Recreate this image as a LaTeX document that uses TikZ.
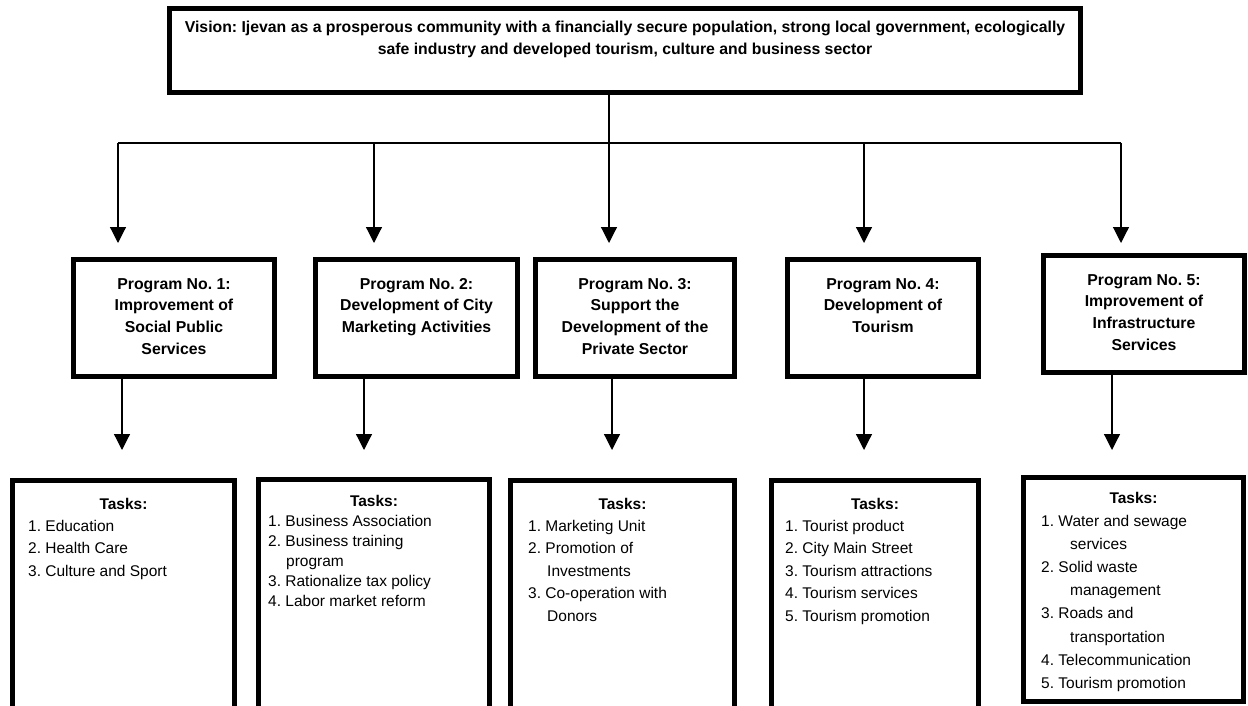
\documentclass[tikz,border=0pt]{standalone}
\usepackage{fontspec}
\setmainfont{Liberation Sans}
\frenchspacing
\usetikzlibrary{arrows.meta}
\begin{document}
\begin{tikzpicture}[x=1pt,y=-1pt,
  frame/.style={draw=black, line width=5pt, inner sep=0pt},
  conn/.style={draw=black, line width=1.2pt},
  arr/.style={conn, -{Triangle[length=16pt,width=16pt]}},
  vtext/.style={font=\fontsize{15.8}{22}\selectfont\bfseries, align=center, inner sep=0pt, anchor=base},
  ptext/.style={font=\fontsize{15.8}{21.7}\selectfont\bfseries, align=center, inner sep=0pt, anchor=base},
  ttitle/.style={font=\fontsize{15.5}{22}\selectfont\bfseries, inner sep=0pt, anchor=base},
  titems/.style={font=\fontsize{15.5}{22.5}\selectfont, align=left, inner sep=0pt, anchor=base west},
]
\useasboundingbox (0,0) rectangle (1248,706);

% vision (text nodes are placed by the baseline of their last line)
\node[frame, minimum width=911pt, minimum height=84pt] (v) at (625,50.5) {};
\node[vtext] (vt) at (625,55) {Vision: Ijevan as a prosperous community with a financially secure population, strong local government, ecologically\\safe industry and developed tourism, culture and business sector};

% programs
\node[frame, minimum width=201pt, minimum height=117pt] (p1) at (174,318) {};
\node[frame, minimum width=202pt, minimum height=117pt] (p2) at (416.5,318) {};
\node[frame, minimum width=199pt, minimum height=117pt] (p3) at (635,318) {};
\node[frame, minimum width=191pt, minimum height=117pt] (p4) at (883,318) {};
\node[frame, minimum width=201pt, minimum height=117pt] (p5) at (1144,314) {};
\node[ptext] (p1t) at (174,354.1) {Program No. 1:\\Improvement of\\Social Public\\Services};
\node[ptext] (p2t) at (416.5,332.4) {Program No. 2:\\Development of City\\Marketing Activities};
\node[ptext] (p3t) at (635,354.1) {Program No. 3:\\Support the\\Development of the\\Private Sector};
\node[ptext] (p4t) at (883,332.4) {Program No. 4:\\Development of\\Tourism};
\node[ptext] (p5t) at (1144,350.1) {Program No. 5:\\Improvement of\\Infrastructure\\Services};

% tasks
\node[frame, minimum width=222pt, minimum height=229pt] (t1) at (123.5,595) {};
\node[frame, minimum width=231pt, minimum height=230pt] (t2) at (374,594.5) {};
\node[frame, minimum width=224pt, minimum height=229pt] (t3) at (622.5,595) {};
\node[frame, minimum width=207pt, minimum height=229pt] (t4) at (875,595) {};
\node[frame, minimum width=220pt, minimum height=224pt] (t5) at (1133.5,589.5) {};

\node[ttitle] (t1h) at (123.5,509) {Tasks:};
\node[titems] (t1i) at (28,576) {1. Education\\2. Health Care\\3. Culture and Sport};

\node[ttitle] (t2h) at (374,506) {Tasks:};
\node[titems, font=\fontsize{15.5}{20}\selectfont] (t2i) at (268,606) {1. Business Association\\2. Business training\\\hspace*{18pt}program\\3. Rationalize tax policy\\4. Labor market reform};

\node[ttitle] (t3h) at (622.5,509) {Tasks:};
\node[titems] (t3i) at (528,621) {1. Marketing Unit\\2. Promotion of\\\hspace*{19pt}Investments\\3. Co-operation with\\\hspace*{19pt}Donors};

\node[ttitle] (t4h) at (875,509) {Tasks:};
\node[titems] (t4i) at (785,621) {1. Tourist product\\2. City Main Street\\3. Tourism attractions\\4. Tourism services\\5. Tourism promotion};

\node[ttitle] (t5h) at (1133.5,503) {Tasks:};
\node[titems, font=\fontsize{15.5}{23.2}\selectfont] (t5i) at (1041,688.4) {1. Water and sewage\\\hspace*{29pt}services\\2. Solid waste\\\hspace*{29pt}management\\3. Roads and\\\hspace*{29pt}transportation\\4. Telecommunication\\5. Tourism promotion};

% bus from the vision to the programs
\coordinate (b1) at (118,143);
\coordinate (b2) at (374,143);
\coordinate (b3) at (609,143);
\coordinate (b4) at (864,143);
\coordinate (b5) at (1121,143);
\draw[conn] (v.south -| b3) -- (b3);
\draw[conn] (b1) -- (b5);
\draw[arr, shorten >=14pt] (b1) -- (b1 |- p1.north);
\draw[arr, shorten >=14pt] (b2) -- (b2 |- p2.north);
\draw[arr, shorten >=14pt] (b3) -- (b3 |- p3.north);
\draw[arr, shorten >=14pt] (b4) -- (b4 |- p4.north);
\draw[arr, shorten >=10pt] (b5) -- (b5 |- p5.north);

% programs to their tasks
\coordinate (c1) at (122,0);
\coordinate (c2) at (364,0);
\coordinate (c3) at (612,0);
\coordinate (c4) at (864,0);
\coordinate (c5) at (1112,0);
\draw[arr, shorten >=28pt] (p1.south -| c1) -- (c1 |- t1.north);
\draw[arr, shorten >=27pt] (p2.south -| c2) -- (c2 |- t2.north);
\draw[arr, shorten >=28pt] (p3.south -| c3) -- (c3 |- t3.north);
\draw[arr, shorten >=28pt] (p4.south -| c4) -- (c4 |- t4.north);
\draw[arr, shorten >=25pt] (p5.south -| c5) -- (c5 |- t5.north);
\end{tikzpicture}
\end{document}
